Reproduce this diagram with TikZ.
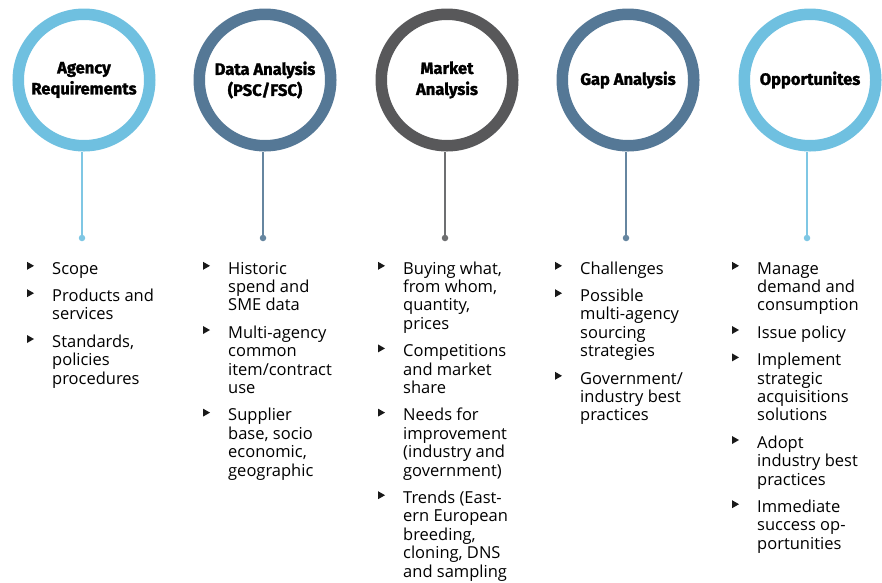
\documentclass[tikz,border=0pt]{standalone}
\usepackage{fontspec}
\setmainfont{Open Sans}
\newfontfamily\headfont{Fira Sans}[BoldFeatures={FakeBold=1.6}]
\definecolor{skyring}{HTML}{6FC0E0}
\definecolor{skyline}{HTML}{7FC7E4}
\definecolor{steelring}{HTML}{557896}
\definecolor{steelline}{HTML}{6686A0}
\definecolor{slatering}{HTML}{58585A}
\definecolor{slateline}{HTML}{6E6F71}
\newcommand\bodyfont{\fontsize{16.5}{18.4}\selectfont}
\newcommand\headsize{\headfont\bfseries\fontsize{16.5}{21}\selectfont}
% triangular bullet in front of the first line of an item node
\newcommand\tri[1]{\fill[black!90] ([shift={(-25,0.8)}]#1.north west) -- ++(7,4) -- ++(-7,4) -- cycle;}
\begin{document}
\begin{tikzpicture}[x=1pt,y=-1pt,
  ring/.style={circle, minimum size=131.5pt, line width=11.5pt, fill=white, inner sep=0pt, align=center, font=\headsize},
  stem/.style={line width=1.4pt},
  knob/.style={circle, inner sep=0pt, minimum size=6.5pt},
  item/.style={anchor=north west, inner sep=0pt, align=left, font=\bodyfont},
]
\useasboundingbox (0,0) rectangle (882,582);

% stage circles
\node[ring, draw=skyring]   (c1) at (84,80)  {Agency\\Requirements};
\node[ring, draw=steelring] (c2) at (265,80) {Data Analysis\\(PSC/FSC)};
\node[ring, draw=slatering] (c3) at (447,80) {Market\\Analysis};
\node[ring, draw=steelring] (c4) at (628,80) {Gap Analysis};
\node[ring, draw=skyring]   (c5) at (810,80) {Opportunites};

% stems ending in small dots
\node[knob, fill=skyline]   (d1) at (82,238)  {};
\node[knob, fill=steelline] (d2) at (263,238) {};
\node[knob, fill=slateline] (d3) at (445,238) {};
\node[knob, fill=steelline] (d4) at (626,238) {};
\node[knob, fill=skyline]   (d5) at (807,238) {};
\draw[stem, skyline]   (d1) -- (d1 |- 0,152);
\draw[stem, steelline] (d2) -- (d2 |- 0,152);
\draw[stem, slateline] (d3) -- (d3 |- 0,152);
\draw[stem, steelline] (d4) -- (d4 |- 0,152);
\draw[stem, skyline]   (d5) -- (d5 |- 0,152);

% column 1
\node[item] (a1) at (52,261) {\strut Scope\strut};
\node[item] (a2) at ([yshift=-8.6pt]a1.south west) {\strut Products and\\services\strut};
\node[item] (a3) at ([yshift=-8.6pt]a2.south west) {\strut Standards,\\policies\\procedures\strut};
\tri{a1}\tri{a2}\tri{a3}

% column 2
\node[item] (b1) at (228,261) {\strut Historic\\spend and\\SME data\strut};
\node[item] (b2) at ([yshift=-8.6pt]b1.south west) {\strut Multi-agency\\common\\item/contract\\use\strut};
\node[item] (b3) at ([yshift=-8.6pt]b2.south west) {\strut Supplier\\base, socio\\economic,\\geographic\strut};
\tri{b1}\tri{b2}\tri{b3}

% column 3
\node[item] (m1) at (403,261) {\strut Buying what,\\from whom,\\quantity,\\prices\strut};
\node[item] (m2) at ([yshift=-8.6pt]m1.south west) {\strut Competitions\\and market\\share\strut};
\node[item] (m3) at ([yshift=-8.6pt]m2.south west) {\strut Needs for\\improvement\\(industry and\\government)\strut};
\node[item] (m4) at ([yshift=-8.6pt]m3.south west) {\strut Trends (East-\\ern European\\breeding,\\cloning, DNS\\and sampling\strut};
\tri{m1}\tri{m2}\tri{m3}\tri{m4}

% column 4
\node[item] (g1) at (580,261) {\strut Challenges\strut};
\node[item] (g2) at ([yshift=-8.6pt]g1.south west) {\strut Possible\\multi-agency\\sourcing\\strategies\strut};
\node[item] (g3) at ([yshift=-8.6pt]g2.south west) {\strut Government/\\industry best\\practices\strut};
\tri{g1}\tri{g2}\tri{g3}

% column 5
\node[item] (o1) at (757,261) {\strut Manage\\demand and\\consumption\strut};
\node[item] (o2) at ([yshift=-8.6pt]o1.south west) {\strut Issue policy\strut};
\node[item] (o3) at ([yshift=-8.6pt]o2.south west) {\strut Implement\\strategic\\acquisitions\\solutions\strut};
\node[item] (o4) at ([yshift=-8.6pt]o3.south west) {\strut Adopt\\industry best\\practices\strut};
\node[item] (o5) at ([yshift=-8.6pt]o4.south west) {\strut Immediate\\success op-\\portunities\strut};
\tri{o1}\tri{o2}\tri{o3}\tri{o4}\tri{o5}
\end{tikzpicture}
\end{document}
